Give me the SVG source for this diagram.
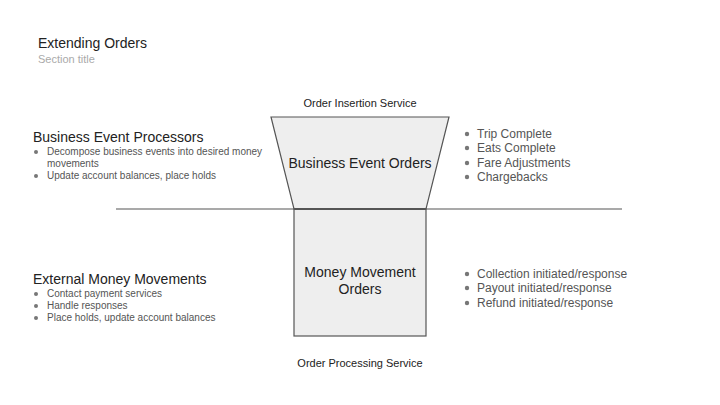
<svg xmlns="http://www.w3.org/2000/svg" width="720" height="405" viewBox="0 0 720 405">
<style>
text{font-family:"Liberation Sans",Arial,sans-serif;}
.title{font-size:14px;fill:#222;}
.sub{font-size:11px;fill:#aaa;}
.svc{font-size:11px;fill:#222;text-anchor:middle;}
.lbl{font-size:14px;fill:#222;text-anchor:middle;}
.head{font-size:14px;fill:#222;}
.sb{font-size:10px;fill:#555;}
.rb{font-size:12px;fill:#555;}
.dot{fill:#777;}
.shape{fill:#eeeeee;stroke:#555;stroke-width:1.2;}
</style>
<rect width="720" height="405" fill="#fff"/>
<g id="header">
<text class="title" x="38" y="48">Extending Orders</text>
<text class="sub" x="38" y="63">Section title</text>
</g>
<g id="connectors">
<line x1="116" y1="209" x2="622" y2="209" stroke="#555" stroke-width="1.2"/>
</g>
<g id="business-event-orders">
<text class="svc" x="360" y="107">Order Insertion Service</text>
<polygon class="shape" points="271,117 449,117 426,209 294,209"/>
<text class="lbl" x="360" y="168">Business Event Orders</text>
</g>
<g id="money-movement-orders">
<rect class="shape" x="294" y="209" width="132" height="127"/>
<line x1="294" y1="209" x2="426" y2="209" stroke="#555" stroke-width="2"/>
<text class="lbl" x="360" y="277">Money Movement</text>
<text class="lbl" x="360" y="294">Orders</text>
<text class="svc" x="360" y="367">Order Processing Service</text>
</g>
<g id="business-event-processors">
<text class="head" x="33" y="142">Business Event Processors</text>
<circle class="dot" cx="36" cy="152" r="2"/>
<text class="sb" x="47" y="155">Decompose business events into desired money</text>
<text class="sb" x="47" y="167">movements</text>
<circle class="dot" cx="36" cy="176" r="2"/>
<text class="sb" x="47" y="179">Update account balances, place holds</text>
</g>
<g id="external-money-movements">
<text class="head" x="33" y="284">External Money Movements</text>
<circle class="dot" cx="36" cy="294" r="2"/>
<text class="sb" x="47" y="297">Contact payment services</text>
<circle class="dot" cx="36" cy="306" r="2"/>
<text class="sb" x="47" y="309">Handle responses</text>
<circle class="dot" cx="36" cy="318" r="2"/>
<text class="sb" x="47" y="321">Place holds, update account balances</text>
</g>
<g id="business-events-list">
<circle class="dot" cx="467" cy="134" r="2.2"/>
<text class="rb" x="477" y="138">Trip Complete</text>
<circle class="dot" cx="467" cy="148" r="2.2"/>
<text class="rb" x="477" y="152">Eats Complete</text>
<circle class="dot" cx="467" cy="163" r="2.2"/>
<text class="rb" x="477" y="167">Fare Adjustments</text>
<circle class="dot" cx="467" cy="177" r="2.2"/>
<text class="rb" x="477" y="181">Chargebacks</text>
</g>
<g id="money-movements-list">
<circle class="dot" cx="467" cy="274" r="2.2"/>
<text class="rb" x="477" y="278">Collection initiated/response</text>
<circle class="dot" cx="467" cy="288" r="2.2"/>
<text class="rb" x="477" y="292">Payout initiated/response</text>
<circle class="dot" cx="467" cy="303" r="2.2"/>
<text class="rb" x="477" y="307">Refund initiated/response</text>
</g>
</svg>
